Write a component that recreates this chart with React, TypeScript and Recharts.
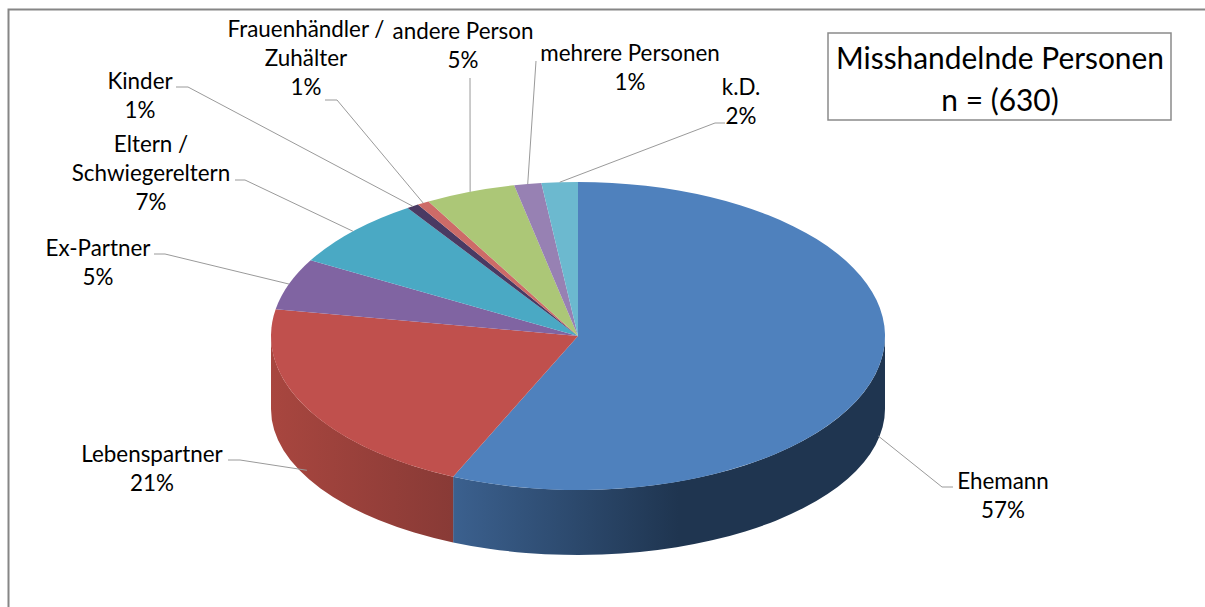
import { PieChart, Pie } from 'recharts';

// n = 630, counts
const categories = [
    'Ehemann',
    'Lebenspartner',
    'Ex-Partner',
    'Eltern /|Schwiegereltern',
    'Kinder',
    'Frauenhändler /|Zuhälter',
    'andere Person',
    'mehrere Personen',
    'k.D.',
];
const counts = [357, 133, 34, 47, 4, 4, 30, 9, 12];
const colors = ['#4f81bd', '#c0504d', '#8064a2', '#4aa9c4', '#4a3a63', '#cd6b68', '#acc777', '#9781b3', '#6cb9cf'];
const wallColors = ['url(#wallBlue)', 'url(#wallRed)', 'none', 'none', 'none', 'none', 'none', 'none', 'none'];
const titleLines = ['Misshandelnde Personen', 'n = (630)'];

const data = categories.map((name, i) => ({ name, value: counts[i], wall: wallColors[i] }));

const W = 1205;
const H = 607;
const CX = 578;
const CY = 336;
const RX = 307;
const RY = 154;
const BOTTOM_CY = 409;
const BOTTOM_RY = 146;
const FONT = 'Lato, sans-serif';
const LINE = '#9a9a9a';

// label text centre, first baseline, leader line start and elbow, how far the line drops below the rim
const labelLayout = [
    { x: 1003, y: 489, from: [953, 487], elbow: [942, 487], drop: 68 },
    { x: 152, y: 462, from: [228, 460], elbow: [240, 460], drop: 62 },
    { x: 98, y: 256, from: [154, 254], elbow: [165, 254], drop: 0 },
    { x: 151, y: 152, from: [235, 180], elbow: [245, 180], drop: 0 },
    { x: 140, y: 89, from: [176, 87], elbow: [188, 87], drop: 0 },
    { x: 306, y: 37, from: [325, 100], elbow: [337, 100], drop: 0 },
    { x: 463, y: 39, from: [470, 78], elbow: [470, 78], drop: 0 },
    { x: 630, y: 61, from: [536, 61], elbow: [536, 61], drop: 0 },
    { x: 741, y: 95, from: [725, 123], elbow: [715, 123], drop: 0 },
];

const rad = (deg: number) => (deg * Math.PI) / 180;
const top = (a: number) => [CX + RX * Math.cos(rad(a)), CY - RY * Math.sin(rad(a))];
const bottom = (a: number) => [CX + RX * Math.cos(rad(a)), BOTTOM_CY - BOTTOM_RY * Math.sin(rad(a))];

// Pie is round, so every sector is redrawn on an ellipse from the angles Recharts computed
const TopSlice = (props: any) => {
    const { startAngle, endAngle, fill } = props;
    const [x1, y1] = top(startAngle);
    const [x2, y2] = top(endAngle);
    const large = startAngle - endAngle > 180 ? 1 : 0;
    return <path d={`M${CX},${CY} L${x1},${y1} A${RX},${RY} 0 ${large} 1 ${x2},${y2} Z`} fill={fill} stroke="none" />;
};

// front wall of the disc, only the part facing the viewer
const WallSlice = (props: any) => {
    const { startAngle, endAngle, payload } = props;
    const a1 = Math.min(startAngle, 0);
    const a2 = Math.max(endAngle, -180);
    if (a1 <= a2 || payload.wall === 'none') return <g />;
    const [x1, y1] = top(a1);
    const [x2, y2] = top(a2);
    const [bx1, by1] = bottom(a1);
    const [bx2, by2] = bottom(a2);
    return (
        <path
            d={`M${x1},${y1} A${RX},${RY} 0 0 1 ${x2},${y2} L${bx2},${by2} A${RX},${BOTTOM_RY} 0 0 0 ${bx1},${by1} Z`}
            fill={payload.wall}
            stroke="none"
        />
    );
};

const leaderLine = (props: any) => {
    const { index, midAngle } = props;
    const l = labelLayout[index];
    const [x, y] = top(midAngle);
    return (
        <polyline
            points={`${l.from[0]},${l.from[1]} ${l.elbow[0]},${l.elbow[1]} ${x},${y + l.drop}`}
            fill="none"
            stroke={LINE}
            strokeWidth={1}
        />
    );
};

const sliceLabel = (props: any) => {
    const { index, percent, name } = props;
    const l = labelLayout[index];
    const lines = [...name.split('|'), `${Math.round(percent * 100)}%`];
    return (
        <text x={l.x} y={l.y} textAnchor="middle" fontFamily={FONT} fontSize={22.4} fill="#000">
            {lines.map((t: string, i: number) => (
                <tspan key={i} x={l.x} dy={i === 0 ? 0 : 29}>
                    {t}
                </tspan>
            ))}
        </text>
    );
};

export default function App() {
    return (
        <div style={{ position: 'absolute', left: 0, top: 0, width: W, height: H, background: '#fff' }}>
            <PieChart width={W} height={H} margin={{ top: 0, right: 0, bottom: 0, left: 0 }}>
                <defs>
                    <linearGradient id="wallBlue" gradientUnits="userSpaceOnUse" x1={455} y1={0} x2={885} y2={0}>
                        <stop offset="0" stopColor="#3b608e" />
                        <stop offset="0.52" stopColor="#1f3550" />
                        <stop offset="1" stopColor="#1f3550" />
                    </linearGradient>
                    <linearGradient id="wallRed" gradientUnits="userSpaceOnUse" x1={271} y1={0} x2={455} y2={0}>
                        <stop offset="0" stopColor="#a8463f" />
                        <stop offset="1" stopColor="#883a36" />
                    </linearGradient>
                </defs>
                <rect x={8.5} y={9.5} width={1220} height={620} fill="#fff" stroke="#868686" strokeWidth={2} />
                <Pie
                    data={data}
                    dataKey="value"
                    nameKey="name"
                    cx={CX}
                    cy={CY}
                    outerRadius={RX}
                    startAngle={90}
                    endAngle={-270}
                    stroke="none"
                    shape={WallSlice}
                    isAnimationActive={false}
                />
                <Pie
                    data={data.map((d, i) => ({ ...d, fill: colors[i] }))}
                    dataKey="value"
                    nameKey="name"
                    cx={CX}
                    cy={CY}
                    outerRadius={RX}
                    startAngle={90}
                    endAngle={-270}
                    stroke="none"
                    shape={TopSlice}
                    label={sliceLabel}
                    labelLine={leaderLine}
                    isAnimationActive={false}
                />
                <rect x={828} y={33} width={343} height={87} fill="#fff" stroke="#8a8a8a" strokeWidth={1.5} />
                {titleLines.map((t, i) => (
                    <text key={t} x={1000} y={69 + i * 42} textAnchor="middle" fontFamily={FONT} fontSize={29.9} fill="#000">
                        {t}
                    </text>
                ))}
            </PieChart>
        </div>
    );
}
